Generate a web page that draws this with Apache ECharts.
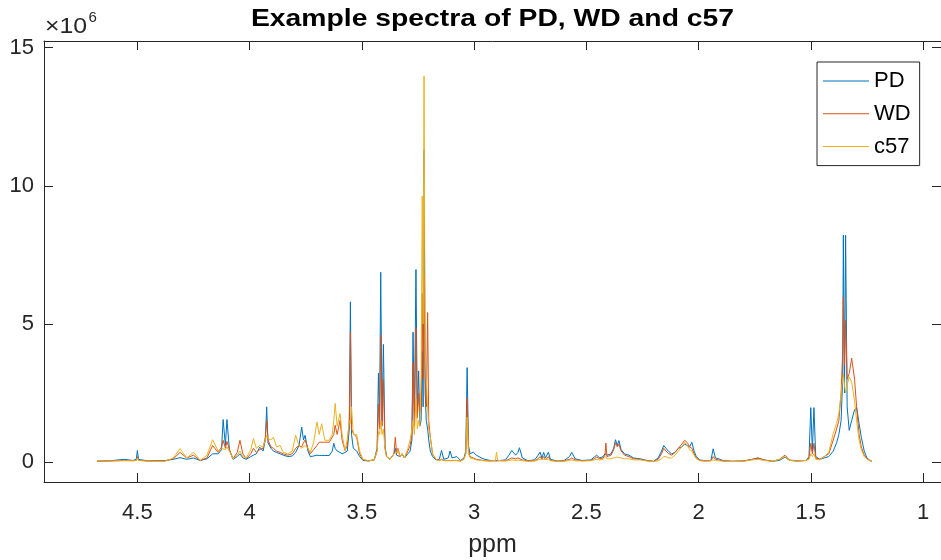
<!DOCTYPE html>
<html>
<head>
<meta charset="utf-8">
<script src="https://cdn.jsdelivr.net/npm/echarts@6/dist/echarts.min.js"></script>
<style>html,body{margin:0;padding:0;background:#fff;}#c{width:941px;height:560px;}</style>
</head>
<body>
<div id="c"></div>
<script>
const ppm = [4.68,4.62,4.56,4.52,4.505,4.50,4.495,4.45,4.38,4.34,
4.31,4.28,4.25,4.22,4.19,4.165,4.14,4.125,4.118,4.108,
4.101,4.09,4.074,4.055,4.043,4.03,4.015,3.995,3.983,3.97,
3.955,3.94,3.93,3.924,3.918,3.905,3.894,3.88,3.864,3.85,
3.83,3.81,3.795,3.78,3.768,3.76,3.753,3.74,3.73,3.715,
3.70,3.69,3.679,3.665,3.645,3.632,3.625,3.619,3.61,3.597,
3.588,3.575,3.565,3.556,3.551,3.546,3.538,3.523,3.51,3.495,
3.47,3.445,3.432,3.426,3.421,3.416,3.41,3.404,3.397,3.39,
3.375,3.357,3.351,3.345,3.339,3.33,3.321,3.31,3.295,3.285,
3.277,3.272,3.266,3.259,3.253,3.247,3.242,3.236,3.231,3.227,
3.223,3.218,3.213,3.207,3.202,3.195,3.185,3.17,3.155,3.145,
3.135,3.115,3.107,3.098,3.077,3.06,3.045,3.037,3.031,3.025,
3.018,3.004,2.99,2.96,2.93,2.905,2.9,2.895,2.86,2.845,
2.832,2.815,2.805,2.798,2.785,2.76,2.73,2.715,2.706,2.698,
2.69,2.682,2.669,2.66,2.63,2.6,2.575,2.565,2.55,2.52,
2.48,2.465,2.454,2.44,2.425,2.417,2.413,2.408,2.39,2.378,
2.37,2.362,2.355,2.345,2.33,2.31,2.29,2.26,2.23,2.2,
2.18,2.165,2.155,2.145,2.135,2.12,2.105,2.09,2.075,2.062,
2.05,2.04,2.03,2.02,2.01,1.995,1.97,1.945,1.935,1.925,
1.91,1.89,1.85,1.8,1.76,1.735,1.71,1.67,1.64,1.615,
1.595,1.56,1.52,1.508,1.5,1.493,1.486,1.478,1.46,1.44,
1.42,1.4,1.385,1.375,1.365,1.358,1.355,1.35,1.345,1.338,
1.329,1.318,1.305,1.296,1.285,1.275,1.262,1.25,1.235,1.229];

// intensities in units of 10^6
const pd = [0.03,0.05,0.10,0.06,0.10,0.42,0.10,0.04,0.05,0.10,
0.16,0.10,0.15,0.06,0.12,0.30,0.30,0.45,1.54,0.60,
1.54,0.45,0.10,0.20,0.30,0.15,0.10,0.20,0.25,0.30,
0.54,0.40,0.80,2.00,0.70,0.50,0.40,0.35,0.30,0.25,
0.20,0.22,0.35,0.60,1.27,0.80,0.97,0.40,0.20,0.22,
0.25,0.24,0.24,0.24,0.24,0.40,0.68,0.50,0.40,0.35,
0.30,0.35,0.40,1.20,5.80,1.00,0.50,0.40,0.20,0.06,
0.04,0.08,0.50,3.22,1.50,6.87,1.50,4.26,0.60,0.20,
0.10,0.30,0.50,0.25,0.30,0.20,0.30,0.15,0.30,0.40,
0.80,4.70,1.50,6.97,1.80,3.30,1.30,1.50,4.00,2.00,
11.30,2.50,1.50,1.20,0.80,0.40,0.20,0.08,0.10,0.42,
0.10,0.15,0.40,0.15,0.20,0.06,0.15,0.40,3.42,0.60,
0.30,0.36,0.25,0.12,0.06,0.05,0.08,0.05,0.08,0.25,
0.42,0.25,0.35,0.52,0.15,0.05,0.08,0.25,0.36,0.15,
0.35,0.15,0.36,0.10,0.04,0.05,0.20,0.35,0.12,0.06,
0.08,0.18,0.25,0.15,0.20,0.30,0.30,0.25,0.30,0.50,
0.81,0.60,0.78,0.45,0.30,0.25,0.15,0.12,0.06,0.03,
0.15,0.40,0.60,0.50,0.40,0.30,0.35,0.50,0.55,0.65,
0.60,0.55,0.72,0.40,0.20,0.08,0.05,0.06,0.48,0.15,
0.12,0.05,0.03,0.04,0.10,0.15,0.08,0.03,0.06,0.18,
0.06,0.04,0.06,0.20,1.97,0.40,1.97,0.20,0.10,0.15,
0.20,0.40,0.70,1.00,1.50,3.00,8.21,2.50,8.21,2.00,
1.15,1.50,1.90,1.98,1.40,0.90,0.40,0.15,0.05,0.03];

const wd = [0.04,0.04,0.06,0.05,0.06,0.20,0.06,0.04,0.04,0.12,
0.35,0.15,0.25,0.06,0.15,0.60,0.35,0.55,0.79,0.50,
0.75,0.45,0.12,0.35,0.79,0.30,0.12,0.30,0.50,0.35,
0.45,0.50,0.90,1.51,0.80,0.55,0.50,0.40,0.35,0.30,
0.25,0.30,0.50,0.60,0.55,0.70,0.80,0.50,0.30,0.45,
0.60,0.72,0.72,0.72,0.72,0.90,1.00,1.33,1.00,1.51,
0.80,0.42,0.60,1.50,4.71,1.20,1.04,0.90,0.30,0.08,
0.05,0.08,0.40,2.10,1.20,4.59,1.30,3.00,0.50,0.20,
0.10,0.30,0.90,0.30,0.50,0.20,0.30,0.15,0.40,0.60,
1.00,3.60,1.30,4.86,1.60,2.50,1.80,2.00,6.10,3.00,
6.80,3.00,2.00,5.41,1.50,0.90,0.30,0.10,0.06,0.10,
0.06,0.06,0.10,0.06,0.06,0.04,0.12,0.30,2.32,0.40,
0.20,0.15,0.10,0.06,0.04,0.05,0.10,0.05,0.05,0.10,
0.15,0.12,0.15,0.18,0.08,0.04,0.05,0.12,0.20,0.10,
0.20,0.08,0.20,0.06,0.03,0.04,0.10,0.15,0.08,0.05,
0.06,0.12,0.18,0.12,0.15,0.25,0.69,0.20,0.25,0.45,
0.70,0.55,0.65,0.40,0.25,0.20,0.12,0.10,0.05,0.02,
0.10,0.30,0.50,0.40,0.32,0.25,0.35,0.50,0.65,0.79,
0.70,0.55,0.50,0.30,0.15,0.06,0.04,0.05,0.20,0.10,
0.08,0.04,0.03,0.04,0.10,0.15,0.08,0.03,0.10,0.25,
0.08,0.04,0.06,0.15,0.68,0.30,0.68,0.15,0.10,0.20,
0.30,0.80,1.20,1.50,2.50,4.00,5.98,3.50,5.13,3.00,
3.20,3.76,3.00,2.00,1.00,0.55,0.25,0.12,0.05,0.04];

const c57 = [0.04,0.04,0.05,0.05,0.06,0.15,0.06,0.03,0.02,0.15,
0.49,0.15,0.36,0.06,0.25,0.81,0.40,0.50,0.55,0.45,
0.55,0.40,0.12,0.25,0.40,0.20,0.15,0.45,0.85,0.50,
0.60,0.55,0.80,0.97,0.85,0.80,0.90,0.55,0.60,0.35,
0.30,0.40,0.97,0.60,0.50,0.55,0.60,0.50,0.35,0.70,
1.45,1.00,1.39,0.79,0.79,1.00,1.50,2.12,1.30,1.76,
1.00,0.42,0.80,1.50,1.40,2.00,1.00,1.00,0.40,0.10,
0.05,0.08,0.40,1.10,1.00,1.50,1.00,1.20,0.50,0.20,
0.10,0.30,0.35,0.35,0.45,0.20,0.30,0.15,0.50,0.80,
1.20,1.50,1.00,2.30,1.20,1.50,1.30,3.00,9.63,5.00,
13.97,4.00,3.00,2.00,1.20,0.90,0.30,0.10,0.05,0.08,
0.05,0.05,0.08,0.05,0.05,0.04,0.10,0.30,1.63,0.30,
0.15,0.12,0.08,0.05,0.04,0.06,0.36,0.06,0.04,0.06,
0.08,0.06,0.07,0.08,0.05,0.03,0.04,0.08,0.10,0.06,
0.10,0.06,0.10,0.05,0.03,0.03,0.06,0.08,0.05,0.04,
0.05,0.08,0.10,0.08,0.10,0.15,0.20,0.12,0.12,0.15,
0.20,0.18,0.20,0.15,0.12,0.12,0.08,0.08,0.04,0.02,
0.05,0.12,0.20,0.20,0.15,0.15,0.25,0.40,0.55,0.72,
0.60,0.45,0.40,0.25,0.12,0.05,0.04,0.05,0.08,0.05,
0.05,0.03,0.02,0.03,0.08,0.10,0.06,0.03,0.10,0.20,
0.06,0.04,0.06,0.10,0.30,0.20,0.30,0.10,0.08,0.20,
0.35,1.04,1.40,1.76,2.50,3.00,3.20,2.80,2.50,2.80,
3.08,2.90,2.20,1.50,0.80,0.45,0.20,0.10,0.05,0.04];

const seriesNames = ['PD', 'WD', 'c57'];
const seriesColors = ['#0072BD', '#D95319', '#EDB120'];
const xTicks = [1, 1.5, 2, 2.5, 3, 3.5, 4, 4.5];
const yTicks = [0, 5, 10, 15];

const FONT = '"Liberation Sans", Arial, Helvetica, sans-serif';
const AX = '#262626';

const chart = echarts.init(document.getElementById('c'), null, {renderer: 'canvas'});
const values = [pd, wd, c57];

function xAxisCfg(pos, labels) {
  return {
    type: 'value', position: pos, inverse: true, min: 0.92, max: 4.916,
    axisLine: {show: true, onZero: false, lineStyle: {color: AX, width: 1}},
    axisTick: {show: true, inside: true, length: 9, customValues: xTicks, lineStyle: {color: AX, width: 1}},
    axisLabel: {show: labels, customValues: xTicks, fontSize: 22, color: AX, margin: 20, fontFamily: FONT,
      formatter: v => String(v)},
    splitLine: {show: false},
    name: labels ? 'ppm' : '', nameLocation: 'middle', nameGap: 51,
    nameTextStyle: {fontSize: 25, color: AX, fontFamily: FONT}
  };
}
function yAxisCfg(pos, labels) {
  return {
    type: 'value', position: pos, min: -0.72, max: 15.24,
    axisLine: {show: true, onZero: false, lineStyle: {color: AX, width: 1}},
    axisTick: {show: true, inside: true, length: 9, customValues: yTicks, lineStyle: {color: AX, width: 1}},
    axisLabel: {show: labels, customValues: yTicks, fontSize: 22, color: AX, margin: 10, fontFamily: FONT,
      formatter: v => String(v)},
    splitLine: {show: false}
  };
}

chart.setOption({
  animation: false,
  backgroundColor: '#fff',
  grid: {left: 44, right: 0, top: 41, bottom: 78, containLabel: false, outerBoundsMode: 'none'},
  xAxis: [xAxisCfg('bottom', true), xAxisCfg('top', false)],
  yAxis: [yAxisCfg('left', true), yAxisCfg('right', false)],
  legend: {
    data: seriesNames, orient: 'vertical', left: 817, top: 62,
    icon: 'rect', itemWidth: 46, itemHeight: 1, itemGap: 10.8,
    padding: [8, 9, 8, 6],
    borderColor: AX, borderWidth: 1, backgroundColor: '#fff',
    textStyle: {fontSize: 22, color: '#000', fontFamily: FONT, lineHeight: 21},
    selectedMode: false
  },
  graphic: [
    {type: 'text', x: 492.5, y: 19.5, scaleX: 1.18, style: {text: 'Example spectra of PD, WD and c57', fontSize: 24, fontWeight: 'bold', fontFamily: FONT, fill: '#000', align: 'center', verticalAlign: 'middle'}},
    {type: 'text', x: 45, y: 27, scaleX: 1.13, style: {text: '×10', fontSize: 22, fontFamily: FONT, fill: AX, align: 'left', verticalAlign: 'middle'}},
    {type: 'text', x: 88.5, y: 18, style: {text: '6', fontSize: 15, fontFamily: FONT, fill: AX, align: 'left', verticalAlign: 'middle'}}
  ],
  series: seriesNames.map((n, k) => ({
    name: n, type: 'line', xAxisIndex: 0, yAxisIndex: 0,
    data: ppm.map((p, i) => [p, values[k][i]]),
    showSymbol: false, symbol: 'none', smooth: false,
    color: seriesColors[k],
    lineStyle: {width: 1, color: seriesColors[k]},
    emphasis: {disabled: true}, silent: true
  }))
});
</script>
</body>
</html>
